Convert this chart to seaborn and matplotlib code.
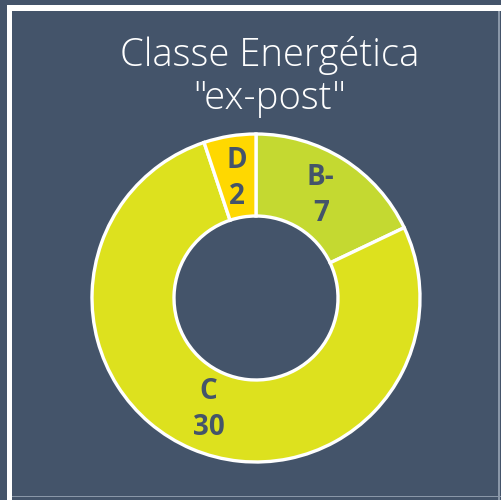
import matplotlib
matplotlib.use("Agg")
import matplotlib.pyplot as plt
import seaborn as sns
from matplotlib.patches import Rectangle

categories = ["B-", "C", "D"]
values = [7, 30, 2]
title_lines = ["Classe Energética", "\"ex-post\""]

BG = "#44546A"
colors = sns.color_palette(["#C4D931", "#DDE11E", "#FFD800"])

sns.set_theme(style="white")
plt.rcParams['font.family'] = ['Open Sans', 'DejaVu Sans']

W, H = 502, 500
fig = plt.figure(figsize=(W / 100, H / 100), dpi=100, facecolor=BG)

# frame lines (screenshot border)
fig.patches.append(Rectangle((7 / W, 0), 5 / W, 1 - 5 / H, transform=fig.transFigure,
                             facecolor="white", edgecolor="none", zorder=0))
fig.patches.append(Rectangle((7 / W, 1 - 11 / H), 1 - 7 / W, 6 / H, transform=fig.transFigure,
                             facecolor="white", edgecolor="none", zorder=0))
fig.patches.append(Rectangle((498 / W, 0), 2 / W, 1 - 11 / H, transform=fig.transFigure,
                             facecolor="#8A97A8", edgecolor="none", zorder=0))
fig.patches.append(Rectangle((12 / W, 3 / H), 1 - 12 / W, 1.5 / H, transform=fig.transFigure,
                             facecolor="#8A97A8", edgecolor="none", zorder=0))

cx, cy, R = 256, 298, 164
ax = fig.add_axes([(cx - R) / W, (H - cy - R) / H, 2 * R / W, 2 * R / H])
ax.set_facecolor("none")

labels = [f"{c}\n{v}" for c, v in zip(categories, values)]
wedges, texts = ax.pie(values, labels=labels, colors=colors, startangle=90, counterclock=False,
                       radius=1.0, labeldistance=0.74,
                       wedgeprops=dict(width=0.5, edgecolor="white", linewidth=2.4),
                       textprops=dict(color=BG, fontsize=20, fontweight="bold",
                                      ha="center", va="center", linespacing=1.3))
for w in wedges:
    w.set_clip_on(False)
ax.set_xlim(-1, 1)
ax.set_ylim(-1, 1)
ax.axis("off")

fig.text(270 / W, 1 - 77 / H, "\n".join(title_lines), ha="center", va="center",
         color="white", fontsize=27.5, fontweight="light", linespacing=1.12)

fig.savefig("out.png", dpi=100, facecolor=BG)
